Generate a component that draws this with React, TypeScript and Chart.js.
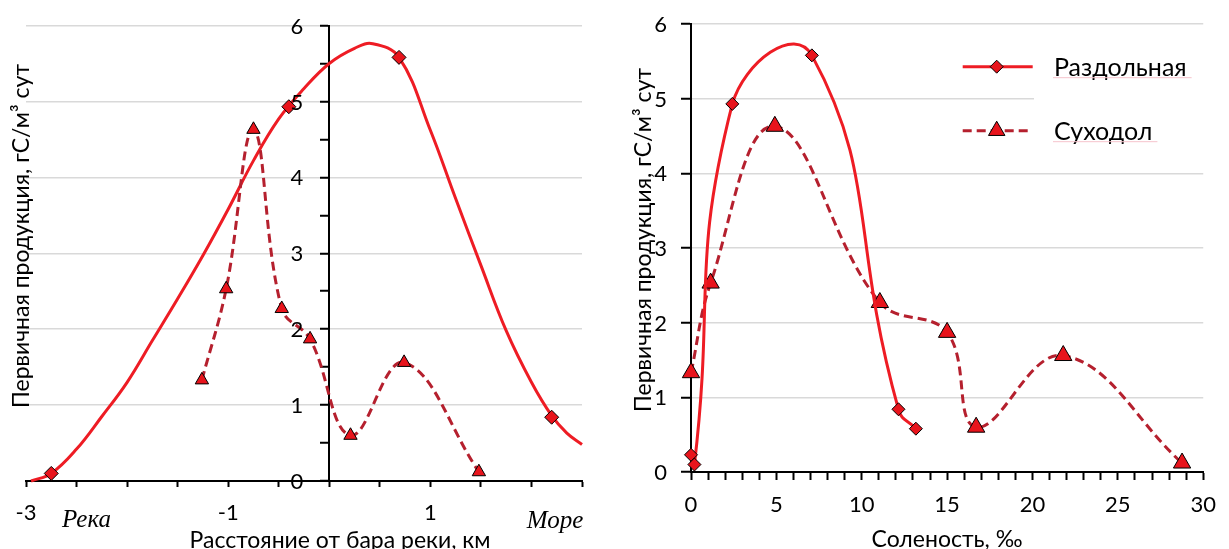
import React, { useEffect, useRef } from "react";
import { Chart, registerables } from "chart.js";

Chart.register(...registerables);

// ---------- Left chart: distance from the river bar, km ----------
const distTicksLabeled = [-3, -1, 1];
const distRazdolnayaX = [-2.75, -0.4, 0.69, 2.2];
const distRazdolnayaY = [0.1, 4.93, 5.58, 0.84];
const distTrendX = [-2.95, -2.75, -2.5, -2.25, -2.0, -1.75, -1.5, -1.25, -1.0, -0.75, -0.5, -0.25, 0, 0.25, 0.43, 0.69, 1.0, 1.25, 1.5, 1.75, 2.0, 2.2, 2.35, 2.5];
const distTrendY = [0, 0.1, 0.42, 0.85, 1.3, 1.85, 2.4, 2.97, 3.58, 4.22, 4.77, 5.17, 5.5, 5.7, 5.76, 5.58, 4.62, 3.72, 2.84, 1.98, 1.3, 0.86, 0.63, 0.48];
const distSuhodolX = [-1.26, -1.02, -0.75, -0.47, -0.19, 0.21, 0.74, 1.48];
const distSuhodolY = [1.33, 2.53, 4.63, 2.27, 1.87, 0.6, 1.56, 0.12];

// ---------- Right chart: salinity, ‰ ----------
const salRazdolnayaX = [0, 0.2, 2.42, 7.08, 12.15, 13.17];
const salRazdolnayaY = [0.23, 0.1, 4.93, 5.58, 0.84, 0.58];
const salSuhodolX = [0, 1.15, 4.91, 11.06, 15.0, 16.7, 21.8, 28.76];
const salSuhodolY = [1.33, 2.53, 4.63, 2.27, 1.87, 0.6, 1.56, 0.12];

const seriesNames = ["Раздольная", "Суходол"];
const yTitle = "Первичная продукция, гС/м³ сут";
const xTitleLeft = "Расстояние от бара реки, км";
const xTitleRight = "Соленость, ‰";
const riverLabel = "Река";
const seaLabel = "Море";

const RED = "#ee1c24";
const DARK_RED = "#b5202e";
const MARK = "#e8141c";
const GRID = "#d9d9d9";
const FONT = "Lato";

const pts = (xs: number[], ys: number[]) => xs.map((x, i) => ({ x, y: ys[i] }));
const near = (v: number, t: number) => Math.abs(v - t) < 1e-6;

// y tick labels drawn to the left of a y axis that crosses at x = 0
function yLabelsPlugin(gap: number) {
  return {
    id: "yLabels",
    afterDraw(chart: any) {
      const ctx = chart.ctx;
      const ys = chart.scales.y;
      const x0 = chart.scales.x.getPixelForValue(0);
      ctx.save();
      ctx.fillStyle = "#000";
      ctx.font = `22px ${FONT}`;
      ctx.textAlign = "right";
      ctx.textBaseline = "middle";
      ys.ticks.forEach((t: any) => {
        if (near(t.value, Math.round(t.value))) {
          ctx.fillText(String(Math.round(t.value)), x0 - gap, ys.getPixelForValue(t.value) + 1);
        }
      });
      ctx.restore();
    },
  };
}

const leftText = {
  id: "leftText",
  afterDraw(chart: any) {
    const ctx = chart.ctx;
    ctx.save();
    ctx.fillStyle = "#000";
    ctx.font = `23px ${FONT}`;
    ctx.textAlign = "center";
    ctx.textBaseline = "alphabetic";
    ctx.save();
    ctx.translate(28.5, 236);
    ctx.rotate(-Math.PI / 2);
    ctx.fillText(yTitle, 0, 0);
    ctx.restore();
    ctx.fillText(xTitleLeft, 340, 548);
    ctx.font = `italic 25px "Liberation Serif"`;
    ctx.fillText(riverLabel, 86.5, 527);
    ctx.fillText(seaLabel, 555, 528);
    ctx.restore();
  },
};

function drawMarker(ctx: CanvasRenderingContext2D, style: string, r: number, x: number, y: number) {
  ctx.beginPath();
  if (style === "rectRot") {
    ctx.moveTo(x, y - r);
    ctx.lineTo(x + r, y);
    ctx.lineTo(x, y + r);
    ctx.lineTo(x - r, y);
  } else {
    ctx.moveTo(x, y - r);
    ctx.lineTo(x + r * 0.866, y + r / 2);
    ctx.lineTo(x - r * 0.866, y + r / 2);
  }
  ctx.closePath();
  ctx.fill();
  ctx.stroke();
}

const rightText = {
  id: "rightText",
  beforeDatasetsDraw(chart: any) {
    const ctx = chart.ctx;
    ctx.save();
    ctx.fillStyle = "#fff";
    ctx.fillRect(424, 38, 176, 120);
    ctx.restore();
  },
  afterDraw(chart: any) {
    const ctx = chart.ctx;
    ctx.save();
    ctx.fillStyle = "#000";
    ctx.font = `23px ${FONT}`;
    ctx.textAlign = "center";
    ctx.textBaseline = "alphabetic";
    ctx.save();
    ctx.translate(41, 240);
    ctx.rotate(-Math.PI / 2);
    ctx.fillText(yTitle, 0, 0);
    ctx.restore();
    ctx.fillText(xTitleRight, 337, 547);

    // legend
    const rows = [
      { y: 66.7, dash: [] as number[], color: RED, style: "rectRot", r: 6.5 },
      { y: 130.7, dash: [9, 5], color: DARK_RED, style: "triangle", r: 9.5 },
    ];
    rows.forEach((row, i) => {
      ctx.save();
      ctx.strokeStyle = row.color;
      ctx.lineWidth = 3;
      ctx.setLineDash(row.dash);
      ctx.beginPath();
      ctx.moveTo(352.7, row.y);
      ctx.lineTo(422.7, row.y);
      ctx.stroke();
      ctx.restore();
      ctx.save();
      ctx.fillStyle = MARK;
      ctx.strokeStyle = "#000";
      ctx.lineWidth = 1;
      drawMarker(ctx, row.style, row.r, 386.7, row.y);
      ctx.restore();
      ctx.save();
      ctx.font = `25px ${FONT}`;
      ctx.textAlign = "left";
      ctx.fillStyle = "#000";
      ctx.fillText(seriesNames[i], 444, row.y + 9);
      const w = ctx.measureText(seriesNames[i]).width;
      ctx.strokeStyle = "#f6c3cc";
      ctx.lineWidth = 1;
      ctx.beginPath();
      ctx.moveTo(443, row.y + 11);
      ctx.lineTo(444 + w + 5, row.y + 11);
      ctx.stroke();
      ctx.restore();
    });
    ctx.restore();
  },
};

export default function App() {
  const leftRef = useRef<HTMLCanvasElement | null>(null);
  const rightRef = useRef<HTMLCanvasElement | null>(null);

  useEffect(() => {
    Chart.defaults.font.family = FONT;
    const left = new Chart(leftRef.current as HTMLCanvasElement, {
      type: "line",
      data: {
        datasets: [
          {
            label: seriesNames[0],
            data: pts(distRazdolnayaX, distRazdolnayaY),
            showLine: false,
            pointStyle: "rectRot",
            pointRadius: 7,
            pointBackgroundColor: MARK,
            pointBorderColor: "#000",
            pointBorderWidth: 1,
            clip: false,
            order: 0,
          } as any,
          {
            label: seriesNames[1],
            data: pts(distSuhodolX, distSuhodolY),
            borderColor: DARK_RED,
            borderWidth: 3,
            borderDash: [9, 5],
            tension: 0.4,
            pointStyle: "triangle",
            pointRadius: 7.7,
            pointBackgroundColor: MARK,
            pointBorderColor: "#000",
            pointBorderWidth: 1,
            clip: false,
            order: 1,
          },
          {
            label: "trend",
            data: pts(distTrendX, distTrendY),
            borderColor: RED,
            borderWidth: 3,
            pointRadius: 0,
            tension: 0.4,
            clip: false,
            order: 2,
          },
        ],
      },
      options: {
        animation: false,
        responsive: false,
        devicePixelRatio: 1,
        layout: { padding: { left: 26, right: 28, top: 25.5, bottom: 68 } },
        plugins: { legend: { display: false }, tooltip: { enabled: false } },
        scales: {
          x: {
            type: "linear",
            min: -3,
            max: 2.5,
            position: { y: 0 } as any,
            ticks: {
              stepSize: 0.5,
              autoSkip: false,
              maxRotation: 0,
              color: "#000",
              font: { size: 22 },
              padding: 14,
              callback: (v: any) => (distTicksLabeled.some((t) => near(v, t)) ? String(Math.round(v)) : ""),
            },
            grid: { drawOnChartArea: false, tickLength: 5, tickColor: "#000", tickWidth: 2 },
            border: { color: "#000", width: 2 },
          },
          y: {
            type: "linear",
            min: 0,
            max: 6,
            position: { x: 0 } as any,
            ticks: { stepSize: 0.5, autoSkip: false, display: false },
            grid: {
              color: (c: any) => (c.tick && near(c.tick.value, Math.round(c.tick.value)) ? GRID : "rgba(0,0,0,0)"),
              lineWidth: 1.5,
              tickLength: 8,
              tickColor: "#000",
              tickWidth: 2,
            },
            border: { color: "#000", width: 2 },
          },
        },
      },
      plugins: [leftText, yLabelsPlugin(26)],
    });

    const right = new Chart(rightRef.current as HTMLCanvasElement, {
      type: "line",
      data: {
        datasets: [
          {
            label: seriesNames[0],
            data: pts(salRazdolnayaX, salRazdolnayaY),
            borderColor: RED,
            borderWidth: 3,
            tension: 0.5,
            pointStyle: "rectRot",
            pointRadius: 6.5,
            pointBackgroundColor: MARK,
            pointBorderColor: "#000",
            pointBorderWidth: 1,
            clip: false,
            order: 0,
          } as any,
          {
            label: seriesNames[1],
            data: pts(salSuhodolX, salSuhodolY),
            borderColor: DARK_RED,
            borderWidth: 3,
            borderDash: [9, 5],
            tension: 0.4,
            pointStyle: "triangle",
            pointRadius: 10,
            pointBackgroundColor: MARK,
            pointBorderColor: "#000",
            pointBorderWidth: 1,
            clip: false,
            order: 1,
          },
        ],
      },
      options: {
        animation: false,
        responsive: false,
        devicePixelRatio: 1,
        layout: { padding: { left: 81, right: 19, top: 24, bottom: 77 } },
        plugins: { legend: { display: false }, tooltip: { enabled: false } },
        scales: {
          x: {
            type: "linear",
            min: 0,
            max: 30,
            position: { y: 0 } as any,
            ticks: {
              stepSize: 1,
              autoSkip: false,
              maxRotation: 0,
              color: "#000",
              font: { size: 22 },
              padding: 13,
              callback: (v: any) => (near(v % 5, 0) ? String(Math.round(v)) : ""),
            },
            grid: { drawOnChartArea: false, tickLength: 7, tickColor: "#000", tickWidth: 2 },
            border: { color: "#000", width: 2 },
          },
          y: {
            type: "linear",
            min: 0,
            max: 6,
            position: { x: 0 } as any,
            ticks: { stepSize: 1, display: false },
            grid: { color: GRID, lineWidth: 1.5, tickLength: 9, tickColor: "#000", tickWidth: 2 },
            border: { color: "#000", width: 2 },
          },
        },
      },
      plugins: [rightText, yLabelsPlugin(24)],
    });

    return () => {
      left.destroy();
      right.destroy();
    };
  }, []);

  return (
    <div style={{ position: "absolute", left: 0, top: 0, width: 1229, height: 549, background: "#fff", overflow: "hidden" }}>
      <canvas ref={leftRef} width={610} height={549} style={{ position: "absolute", left: 0, top: 0 }} />
      <canvas ref={rightRef} width={619} height={549} style={{ position: "absolute", left: 610, top: 0 }} />
    </div>
  );
}
